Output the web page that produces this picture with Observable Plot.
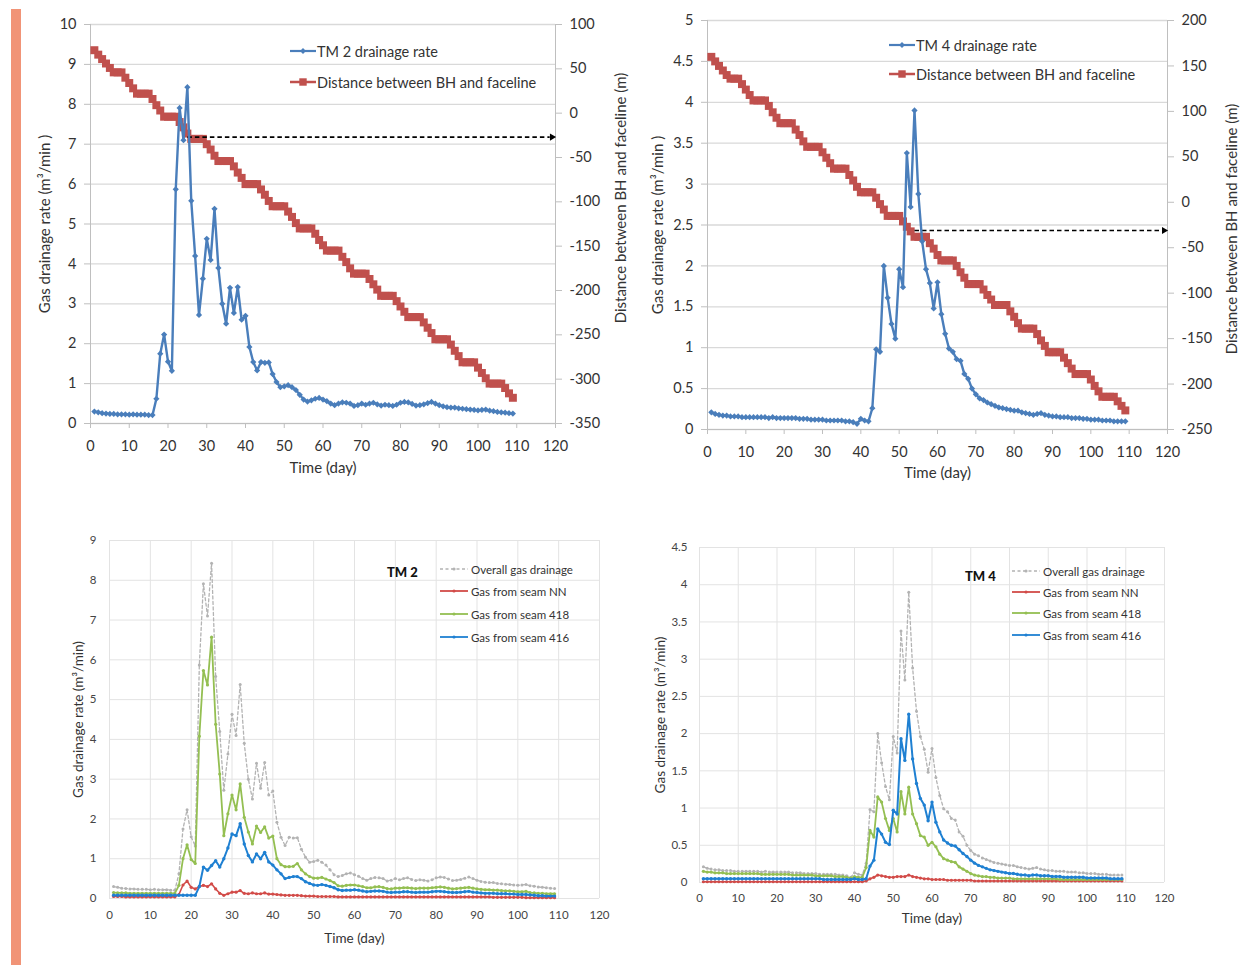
<!DOCTYPE html>
<html><head><meta charset="utf-8">
<script src="https://cdn.jsdelivr.net/npm/d3@7"></script>
<script src="https://cdn.jsdelivr.net/npm/@observablehq/plot@0.6"></script>
<style>
body{margin:0;background:#fff;}
#root{position:relative;width:1251px;height:965px;overflow:hidden;background:#fff;font-family:Lato, "Open Sans", sans-serif;}
.panel{position:absolute;}
.leg{position:absolute;display:flex;align-items:center;white-space:nowrap;height:18px;}
</style></head><body>
<div id="root">
  <div id="bar" style="position:absolute;left:11px;top:9px;width:10px;height:956px;background:#f19477"></div>
  <div id="tl" class="panel" style="left:0;top:0"></div>
  <div id="tr" class="panel" style="left:630px;top:0"></div>
  <div id="bl" class="panel" style="left:0;top:500px"></div>
  <div id="br" class="panel" style="left:630px;top:500px"></div>
</div>
<script>
// ---------------- DATA ----------------
const days = [1,2,3,4,5,6,7,8,9,10,11,12,13,14,15,16,17,18,19,20,21,22,23,24,25,26,27,28,29,30,
31,32,33,34,35,36,37,38,39,40,41,42,43,44,45,46,47,48,49,50,51,52,53,54,55,56,57,58,59,60,
61,62,63,64,65,66,67,68,69,70,71,72,73,74,75,76,77,78,79,80,81,82,83,84,85,86,87,88,89,90,
91,92,93,94,95,96,97,98,99,100,101,102,103,104,105,106,107,108,109];

// TM 2 overall drainage rate (m3/min)
const tm2Overall = [.30,.28,.26,.25,.24,.24,.23,.23,.23,.22,
.23,.22,.22,.22,.21,.21,.62,1.75,2.23,1.55,
1.32,5.87,7.91,7.10,8.43,5.58,4.20,2.72,3.63,4.63,
4.10,5.38,3.90,3.00,2.50,3.40,2.77,3.42,2.60,2.70,
1.92,1.54,1.33,1.54,1.52,1.53,1.24,1.04,.91,.93,
.96,.91,.84,.72,.60,.55,.58,.62,.64,.60,
.56,.50,.46,.50,.53,.52,.50,.44,.46,.50,
.47,.50,.52,.48,.45,.47,.46,.44,.47,.52,
.54,.53,.49,.45,.46,.48,.51,.54,.50,.46,
.43,.41,.40,.40,.38,.37,.36,.35,.34,.33,
.34,.35,.32,.31,.29,.28,.27,.26,.25];
// TM 2 distance between BH and faceline (m)
const tm2Distance = [71,66,61,56,51,46,46,46,40,34,
28,22,22,22,22,16,9,3,-4,-4,
-4,-4,-10,-16,-23,-29,-29,-29,-29,-35,
-41,-48,-54,-54,-54,-54,-60,-67,-73,-80,
-80,-80,-80,-86,-92,-99,-105,-105,-105,-105,
-111,-117,-124,-130,-130,-130,-130,-136,-143,-149,
-155,-155,-155,-155,-162,-168,-175,-181,-181,-181,
-181,-187,-193,-199,-206,-206,-206,-206,-212,-218,
-224,-230,-230,-230,-230,-236,-242,-248,-255,-255,
-255,-255,-261,-268,-274,-281,-281,-281,-281,-287,
-293,-299,-305,-305,-305,-305,-310,-316,-321];
const tm2SeamNN = [.05,.05,.05,.04,.04,.04,.04,.04,.04,.04,
.04,.04,.04,.04,.04,.04,.10,.34,.44,.28,
.24,.30,.33,.30,.37,.24,.13,.08,.12,.16,
.16,.20,.13,.12,.14,.12,.12,.14,.11,.11,
.10,.09,.08,.08,.08,.08,.07,.06,.06,.06,
.05,.05,.05,.05,.05,.04,.04,.04,.04,.04,
.04,.04,.04,.04,.04,.04,.04,.04,.04,.04,
.04,.04,.04,.04,.04,.04,.04,.04,.04,.04,
.04,.04,.04,.04,.04,.04,.04,.04,.04,.04,
.04,.04,.04,.03,.03,.03,.03,.03,.03,.03,
.03,.02,.02,.02,.02,.02,.02,.02,.02];
const tm2Seam418 = [.15,.14,.14,.14,.13,.13,.13,.13,.13,.13,
.13,.13,.13,.13,.13,.13,.33,1.00,1.35,.98,
.88,4.08,5.73,5.37,6.57,4.38,3.13,1.58,2.13,2.60,
2.23,2.88,2.04,1.67,1.37,1.82,1.66,1.80,1.52,1.57,
1.00,.85,.80,.80,.81,.88,.72,.62,.55,.51,
.51,.53,.49,.45,.40,.32,.31,.33,.34,.34,
.32,.30,.27,.27,.29,.30,.28,.25,.24,.26,
.26,.27,.27,.26,.25,.26,.26,.26,.27,.28,
.29,.28,.26,.24,.25,.26,.27,.28,.26,.24,
.23,.22,.22,.21,.21,.20,.19,.19,.18,.17,
.17,.18,.15,.14,.13,.13,.12,.12,.12];
const tm2Seam416 = [.08,.08,.08,.08,.08,.08,.08,.08,.08,.08,
.08,.08,.08,.08,.08,.08,.08,.08,.08,.08,
.08,.30,.79,.71,.83,.95,.79,1.00,1.27,1.62,
1.58,1.88,1.37,1.08,.92,1.12,1.00,1.16,.92,.84,
.72,.62,.50,.53,.55,.55,.50,.42,.38,.34,
.33,.35,.33,.30,.27,.22,.20,.21,.21,.22,
.21,.19,.17,.18,.19,.19,.18,.16,.15,.16,
.16,.17,.17,.16,.15,.16,.16,.16,.17,.18,
.18,.17,.16,.15,.15,.16,.17,.18,.16,.15,
.14,.13,.13,.13,.12,.12,.12,.11,.11,.10,
.10,.10,.09,.08,.07,.07,.06,.06,.06];

// TM 4
const tm4Overall = [.21,.19,.18,.17,.17,.16,.16,.16,.15,.15,
.15,.15,.15,.15,.15,.14,.15,.14,.14,.14,
.14,.14,.14,.13,.13,.13,.12,.12,.12,.12,
.11,.11,.11,.11,.11,.10,.10,.09,.07,.13,
.11,.10,.26,.98,.95,2.00,1.61,1.29,1.11,1.96,
1.74,3.38,2.72,3.90,2.88,2.30,1.96,1.79,1.48,1.80,
1.41,1.17,.99,.95,.86,.84,.68,.62,.50,.43,
.38,.36,.33,.31,.29,.27,.26,.25,.24,.23,
.23,.21,.20,.19,.18,.19,.20,.18,.17,.16,
.16,.15,.15,.15,.14,.14,.14,.13,.13,.12,
.12,.12,.11,.11,.11,.10,.10,.10,.10];
const tm4Distance = [160,155,150,145,140,136,136,136,130,124,
118,112,112,112,112,106,99,93,87,87,
87,87,80,74,67,61,61,61,61,55,
49,43,37,37,37,37,30,24,17,11,
11,11,11,5,-2,-8,-15,-15,-15,-15,
-21,-27,-32,-38,-38,-38,-38,-45,-51,-58,
-64,-64,-64,-64,-70,-77,-83,-90,-90,-90,
-90,-96,-102,-107,-113,-113,-113,-113,-120,-126,
-133,-139,-139,-139,-139,-145,-152,-158,-165,-165,
-165,-165,-171,-177,-183,-189,-189,-189,-189,-195,
-202,-208,-214,-214,-214,-214,-219,-224,-229];
const tm4SeamNN = [.01,.01,.01,.01,.01,.01,.01,.01,.01,.01,
.01,.01,.01,.01,.01,.01,.01,.01,.01,.01,
.01,.01,.01,.01,.01,.01,.01,.01,.01,.01,
.01,.01,.01,.01,.01,.01,.01,.01,.01,.01,
.01,.01,.02,.05,.07,.10,.09,.08,.07,.07,
.08,.08,.08,.10,.08,.07,.06,.05,.05,.04,
.04,.04,.04,.03,.03,.03,.03,.03,.03,.03,
.02,.02,.02,.02,.02,.02,.02,.02,.02,.02,
.02,.02,.02,.02,.02,.02,.02,.02,.02,.02,
.02,.02,.02,.02,.02,.02,.02,.02,.02,.02,
.02,.02,.02,.02,.02,.02,.02,.02,.02];
const tm4Seam418 = [.15,.14,.14,.13,.13,.13,.12,.12,.12,.12,
.12,.12,.12,.12,.12,.11,.11,.11,.11,.11,
.11,.11,.11,.10,.10,.10,.10,.10,.10,.09,
.09,.09,.09,.09,.08,.08,.08,.07,.06,.08,
.07,.07,.20,.70,.61,1.15,1.08,.86,.70,.86,
.68,1.22,.92,1.28,.92,.79,.63,.61,.50,.54,
.48,.38,.32,.30,.28,.27,.21,.18,.15,.12,
.10,.09,.08,.08,.07,.07,.06,.06,.06,.06,
.05,.05,.05,.05,.05,.05,.05,.05,.05,.05,
.05,.05,.04,.04,.04,.04,.04,.04,.04,.04,
.04,.04,.04,.04,.04,.04,.04,.04,.04];
const tm4Seam416 = [.05,.05,.05,.05,.05,.05,.05,.05,.05,.05,
.05,.05,.05,.05,.05,.05,.05,.05,.05,.05,
.05,.05,.05,.05,.05,.05,.05,.05,.05,.05,
.05,.04,.04,.04,.04,.04,.04,.04,.04,.05,
.04,.04,.05,.22,.30,.72,.65,.54,.51,.97,
.92,1.93,1.64,2.26,1.66,1.33,1.13,1.04,.83,1.08,
.81,.68,.57,.53,.50,.49,.44,.39,.35,.30,
.26,.23,.21,.19,.17,.16,.15,.14,.13,.12,
.12,.11,.10,.10,.09,.10,.10,.09,.09,.09,
.08,.08,.08,.07,.07,.07,.07,.07,.07,.06,
.06,.06,.06,.06,.06,.05,.05,.05,.05];

// tick labels
const dayTicks = [0,10,20,30,40,50,60,70,80,90,100,110,120];
const tm2RateTicks = [0,1,2,3,4,5,6,7,8,9,10];
const tm2DistTicks = [100,50,0,-50,-100,-150,-200,-250,-300,-350];
const tm4RateTicks = [0,0.5,1,1.5,2,2.5,3,3.5,4,4.5,5];
const tm4DistTicks = [200,150,100,50,0,-50,-100,-150,-200,-250];
const tm2SeamTicks = [0,1,2,3,4,5,6,7,8,9];
const tm4SeamTicks = [0,0.5,1,1.5,2,2.5,3,3.5,4,4.5];

// annotation: horizontal arrow (distance at which the peak occurred)
const tm2Arrow = [{startDay: 25, endDay: 120, distance: -27}];
const tm4Arrow = [{startDay: 54, endDay: 120, distance: -31}];

// labels
const yRateTitle = "Gas drainage rate (m³/min )";
const yDistTitle = "Distance between BH and faceline (m)";
const xTitle = "Time (day)";
const ySeamTitle = "Gas drainage rate (m³/min)";
const seamNames = ["Overall gas drainage", "Gas from seam NN", "Gas from seam 418", "Gas from seam 416"];

// ---------------- STYLE ----------------
const C = {blue:"#4a7ebb", red:"#c0504d", grey:"#b3b3b3", nn:"#d24b48", s418:"#94bf52", s416:"#1f80d2",
  axis:"#bfbfbf", grid:"#d9d9d9", grid2:"#e3e3e3", text:"#333333"};

function table(rate, dist, nn, s418, s416){
  return days.map((day,i)=>({day, rate: rate[i], dist: dist[i], nn: nn[i], s418: s418[i], s416: s416[i]}));
}
const tm2 = table(tm2Overall, tm2Distance, tm2SeamNN, tm2Seam418, tm2Seam416);
const tm4 = table(tm4Overall, tm4Distance, tm4SeamNN, tm4Seam418, tm4Seam416);

function topChart({data, rateTicks, distTicks, toY, fromY, arrow, width, height, margins, titleOffsets}){
  const [mt, mr, mb, ml] = margins;
  const yMax = rateTicks[rateTicks.length-1];
  return Plot.plot({
    width, height, marginTop: mt, marginRight: mr, marginBottom: mb, marginLeft: ml,
    x: {domain: [0,120]},
    y: {domain: [0, yMax]},
    style: {fontFamily: "Lato, 'Open Sans', sans-serif", fontSize: "14px", color: C.text, background: "transparent", overflow: "visible"},
    marks: [
      Plot.gridY(rateTicks, {stroke: C.grid, strokeOpacity: 1, strokeWidth: 1.3}),
      Plot.ruleX([0, 120], {stroke: C.axis}),
      Plot.ruleY([0], {stroke: C.axis}),
      Plot.axisY(rateTicks, {anchor: "left", tickSize: 6, tickPadding: 8, stroke: C.axis, fill: C.text, label: null, fontSize: 14.5, tickFormat: d => String(d)}),
      Plot.axisY(distTicks.map(toY), {anchor: "right", tickSize: 6, tickPadding: 8, stroke: C.axis, fill: C.text, label: null, fontSize: 14.5, tickFormat: v => String(Math.round(fromY(v)))}),
      Plot.axisX(dayTicks, {anchor: "bottom", tickSize: 5, tickPadding: 12, stroke: C.axis, fill: C.text, label: null, fontSize: 14.5, tickFormat: d => String(d)}),
      Plot.text([yRateTitle], {frameAnchor: "left", textAnchor: "middle", lineAnchor: "middle", dx: titleOffsets.left, rotate: -90, text: d => d, fill: C.text, fontSize: 15}),
      Plot.text([yDistTitle], {frameAnchor: "right", textAnchor: "middle", lineAnchor: "middle", dx: titleOffsets.right, dy: titleOffsets.rightDy, rotate: -90, text: d => d, fill: C.text, fontSize: 15}),
      Plot.text([xTitle], {frameAnchor: "bottom", textAnchor: "middle", lineAnchor: "middle", dy: titleOffsets.bottom, text: d => d, fill: C.text, fontSize: 15}),
      // distance series
      Plot.line(data, {x: "day", y: d => toY(d.dist), stroke: C.red, strokeWidth: 2.5}),
      Plot.dot(data, {x: "day", y: d => toY(d.dist), symbol: "square", r: 4.5, fill: C.red}),
      // arrow annotation
      Plot.link(arrow, {x1: "startDay", x2: d => d.endDay - 1.5, y1: d => toY(d.distance), y2: d => toY(d.distance), stroke: "#000", strokeWidth: 1.6, strokeDasharray: "4.5,3"}),
      Plot.dot(arrow, {x: d => d.endDay - 0.9, y: d => toY(d.distance), symbol: "triangle2", rotate: 90, r: 3.4, fill: "#000"}),
      // rate series
      Plot.line(data, {x: "day", y: "rate", stroke: C.blue, strokeWidth: 2.4}),
      Plot.dot(data, {x: "day", y: "rate", symbol: "diamond2", r: 2.8, fill: C.blue})
    ]
  });
}

function bottomChart({data, ticks, width, height, margins, offsets}){
  const [mt, mr, mb, ml] = margins;
  const yMax = ticks[ticks.length-1];
  const series = [
    {key: "rate", color: C.grey, dash: "3,2.5", w: 1.3, r: 1.5},
    {key: "nn", color: C.nn, dash: null, w: 1.6, r: 1.6},
    {key: "s418", color: C.s418, dash: null, w: 1.8, r: 1.6},
    {key: "s416", color: C.s416, dash: null, w: 2, r: 1.7}
  ];
  const marks = [
    Plot.gridX(dayTicks, {stroke: C.grid2, strokeOpacity: 1}),
    Plot.gridY(ticks, {stroke: C.grid2, strokeOpacity: 1}),
    Plot.axisY(ticks, {anchor: "left", tickSize: 0, tickPadding: offsets.yPad, fill: "#444", label: null, fontSize: 11.5, tickFormat: d => String(d)}),
    Plot.axisX(dayTicks, {anchor: "bottom", tickSize: 0, tickPadding: offsets.xPad, fill: "#444", label: null, fontSize: 11.5, tickFormat: d => String(d)}),
    Plot.text([ySeamTitle], {frameAnchor: "left", textAnchor: "middle", lineAnchor: "middle", dx: offsets.left, rotate: -90, text: d => d, fill: C.text, fontSize: 13.5}),
    Plot.text([xTitle], {frameAnchor: "bottom", textAnchor: "middle", lineAnchor: "middle", dy: offsets.bottom, text: d => d, fill: C.text, fontSize: 13.5})
  ];
  for (const s of series) {
    marks.push(Plot.line(data, {x: "day", y: s.key, stroke: s.color, strokeWidth: s.w, strokeDasharray: s.dash}));
    marks.push(Plot.dot(data, {x: "day", y: s.key, r: s.r, fill: s.color}));
  }
  return Plot.plot({
    width, height, marginTop: mt, marginRight: mr, marginBottom: mb, marginLeft: ml,
    x: {domain: [0,120]},
    y: {domain: [0, yMax]},
    style: {fontFamily: "Lato, 'Open Sans', sans-serif", fontSize: "11px", color: C.text, background: "transparent", overflow: "visible"},
    marks
  });
}

document.getElementById("tl").append(topChart({
  data: tm2, rateTicks: tm2RateTicks, distTicks: tm2DistTicks,
  toY: d => (d + 350) / 45, fromY: v => v * 45 - 350, arrow: tm2Arrow,
  width: 640, height: 490, margins: [24, 85, 67, 90],
  titleOffsets: {left: -45, right: 66, rightDy: -26, bottom: 45}
}));
document.getElementById("tr").append(topChart({
  data: tm4, rateTicks: tm4RateTicks, distTicks: tm4DistTicks,
  toY: d => (d + 250) / 90, fromY: v => v * 90 - 250, arrow: tm4Arrow,
  width: 621, height: 490, margins: [20, 84, 61, 77],
  titleOffsets: {left: -49, right: 65, rightDy: 4, bottom: 44}
}));
document.getElementById("bl").append(bottomChart({
  data: tm2, ticks: tm2SeamTicks, width: 640, height: 465, margins: [40, 41, 67, 109],
  offsets: {yPad: 13, xPad: 12, left: -31, bottom: 40}
}));
document.getElementById("br").append(bottomChart({
  data: tm4, ticks: tm4SeamTicks, width: 621, height: 465, margins: [47, 87, 83, 69],
  offsets: {yPad: 12, xPad: 11, left: -39, bottom: 36}
}));

// ---------------- LEGENDS (HTML overlays) ----------------
const root = document.getElementById("root");
function legendItem({x0, x1, cy, textX, label, color, dash, symbol, symSize, lineW, fontSize}){
  const w = x1 - x0;
  const div = document.createElement("div");
  div.className = "leg";
  div.style.left = x0 + "px";
  div.style.top = (cy - 9) + "px";
  const ns = "http://www.w3.org/2000/svg";
  const svg = document.createElementNS(ns, "svg");
  svg.setAttribute("width", w); svg.setAttribute("height", 18);
  const ln = document.createElementNS(ns, "line");
  ln.setAttribute("x1", 0); ln.setAttribute("x2", w); ln.setAttribute("y1", 9); ln.setAttribute("y2", 9);
  ln.setAttribute("stroke", color); ln.setAttribute("stroke-width", lineW);
  if (dash) ln.setAttribute("stroke-dasharray", dash);
  svg.append(ln);
  const p = document.createElementNS(ns, "path");
  p.setAttribute("d", d3.symbol(symbol, symSize)());
  p.setAttribute("transform", `translate(${w/2},9)`);
  p.setAttribute("fill", color);
  svg.append(p);
  div.append(svg);
  const span = document.createElement("span");
  span.textContent = label;
  span.style.marginLeft = (textX - x1) + "px";
  span.style.fontSize = fontSize + "px";
  span.style.color = C.text;
  div.append(span);
  root.append(div);
}
function tag(text, x, cy, size){
  const d = document.createElement("div");
  d.className = "leg";
  d.style.left = x + "px"; d.style.top = (cy - 9) + "px";
  d.style.fontSize = size + "px"; d.style.fontWeight = "900"; d.style.color = "#111";
  d.textContent = text;
  root.append(d);
}
// top-left
legendItem({x0: 290, x1: 316, cy: 51, textX: 317, label: "TM 2 drainage rate", color: C.blue, symbol: d3.symbolDiamond2, symSize: 22, lineW: 2.2, fontSize: 14.5});
legendItem({x0: 290, x1: 316, cy: 82, textX: 317, label: "Distance between BH and faceline", color: C.red, symbol: d3.symbolSquare, symSize: 55, lineW: 2.5, fontSize: 14.5});
// top-right
legendItem({x0: 889, x1: 915, cy: 45, textX: 916, label: "TM 4 drainage rate", color: C.blue, symbol: d3.symbolDiamond2, symSize: 22, lineW: 2.2, fontSize: 14.5});
legendItem({x0: 889, x1: 915, cy: 74, textX: 916, label: "Distance between BH and faceline", color: C.red, symbol: d3.symbolSquare, symSize: 55, lineW: 2.5, fontSize: 14.5});
// bottom-left
tag("TM 2", 387, 572, 13);
const segCols = [C.grey, C.nn, C.s418, C.s416];
const blRows = [569, 591, 614, 637];
seamNames.forEach((n,i)=> legendItem({x0: 440, x1: 468, cy: blRows[i], textX: 471, label: n, color: segCols[i], dash: i===0 ? "3,2.5" : null, symbol: d3.symbolCircle, symSize: 8, lineW: i===0 ? 1.3 : 1.8, fontSize: 11.5}));
// bottom-right
tag("TM 4", 965, 576, 13);
const brRows = [571, 592, 613, 635];
seamNames.forEach((n,i)=> legendItem({x0: 1012, x1: 1040, cy: brRows[i], textX: 1043, label: n, color: segCols[i], dash: i===0 ? "3,2.5" : null, symbol: d3.symbolCircle, symSize: 8, lineW: i===0 ? 1.3 : 1.8, fontSize: 11.5}));
</script>
</body></html>
